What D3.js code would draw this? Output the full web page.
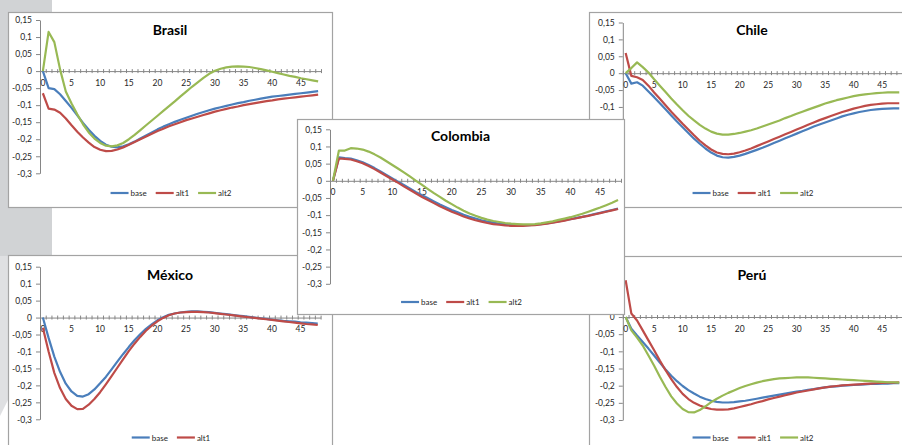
<!DOCTYPE html>
<html lang="es">
<head>
<meta charset="utf-8">
<title>Respuestas al impulso</title>
<script src="https://cdn.jsdelivr.net/npm/d3@7"></script>
<style>
  html, body { margin: 0; padding: 0; background: #fff; }
  svg { display: block; font-family: Lato, "Liberation Sans", sans-serif; }
</style>
</head>
<body>
<svg id="chart" width="902" height="445"></svg>
<script>

// periods after the shock (category axis)
var periods = [0,1,2,3,4,5,6,7,8,9,10,11,12,13,14,15,16,17,18,19,20,21,22,23,24,
               25,26,27,28,29,30,31,32,33,34,35,36,37,38,39,40,41,42,43,44,45,46,47,48];
var xTickLabels = ["0","5","10","15","20","25","30","35","40","45"];
var yTicks = [0.15, 0.1, 0.05, 0, -0.05, -0.1, -0.15, -0.2, -0.25, -0.3];
var yTickLabels = ["0,15","0,1","0,05","0","-0,05","-0,1","-0,15","-0,2","-0,25","-0,3"];
var seriesNames = ["base", "alt1", "alt2"];

var brasilBase = [0, -0.05, -0.053, -0.068, -0.088, -0.108, -0.13, -0.152, -0.172, -0.19,
  -0.205, -0.216, -0.222, -0.224, -0.221, -0.215, -0.207, -0.198, -0.189, -0.18,
  -0.171, -0.163, -0.156, -0.149, -0.143, -0.137, -0.131, -0.125, -0.12, -0.115,
  -0.11, -0.106, -0.102, -0.098, -0.094, -0.091, -0.087, -0.084, -0.081, -0.078,
  -0.075, -0.073, -0.071, -0.069, -0.067, -0.065, -0.063, -0.061, -0.059];
var brasilAlt1 = [-0.065, -0.11, -0.113, -0.122, -0.139, -0.159, -0.178, -0.195, -0.21, -0.223,
  -0.231, -0.235, -0.234, -0.23, -0.224, -0.216, -0.208, -0.2, -0.192, -0.184,
  -0.176, -0.169, -0.162, -0.156, -0.15, -0.144, -0.139, -0.134, -0.129, -0.124,
  -0.119, -0.115, -0.111, -0.107, -0.104, -0.1, -0.097, -0.094, -0.091, -0.088,
  -0.086, -0.083, -0.081, -0.079, -0.077, -0.075, -0.073, -0.071, -0.069];
var brasilAlt2 = [0, 0.115, 0.085, 0.005, -0.06, -0.095, -0.127, -0.156, -0.18, -0.198,
  -0.211, -0.219, -0.221, -0.218, -0.211, -0.2, -0.187, -0.173, -0.159, -0.145,
  -0.131, -0.117, -0.103, -0.089, -0.074, -0.06, -0.046, -0.033, -0.02, -0.008,
  0.001, 0.007, 0.011, 0.013, 0.014, 0.013, 0.012, 0.009, 0.006, 0.002,
  -0.002, -0.006, -0.01, -0.014, -0.017, -0.021, -0.024, -0.027, -0.03];

var chileBase = [0, -0.031, -0.027, -0.037, -0.054, -0.071, -0.089, -0.107, -0.125, -0.143,
  -0.16, -0.177, -0.194, -0.209, -0.223, -0.235, -0.244, -0.249, -0.25, -0.248,
  -0.244, -0.239, -0.233, -0.227, -0.221, -0.214, -0.207, -0.2, -0.193, -0.186,
  -0.179, -0.172, -0.165, -0.158, -0.152, -0.146, -0.14, -0.134, -0.128, -0.123,
  -0.119, -0.115, -0.112, -0.109, -0.107, -0.106, -0.105, -0.104, -0.104];
var chileAlt1 = [0.06, -0.008, -0.012, -0.02, -0.037, -0.057, -0.076, -0.095, -0.114, -0.132,
  -0.15, -0.167, -0.184, -0.2, -0.214, -0.226, -0.235, -0.239, -0.24, -0.238,
  -0.234, -0.229, -0.223, -0.216, -0.209, -0.202, -0.195, -0.188, -0.181, -0.174,
  -0.167, -0.16, -0.153, -0.146, -0.139, -0.133, -0.127, -0.121, -0.115, -0.11,
  -0.105, -0.101, -0.097, -0.094, -0.092, -0.09, -0.089, -0.089, -0.089];
var chileAlt2 = [0, 0.015, 0.032, 0.018, 0.002, -0.018, -0.037, -0.056, -0.075, -0.093,
  -0.11, -0.126, -0.14, -0.153, -0.164, -0.173, -0.179, -0.182, -0.182, -0.18,
  -0.177, -0.173, -0.169, -0.164, -0.158, -0.152, -0.146, -0.14, -0.133, -0.127,
  -0.12, -0.114, -0.108, -0.102, -0.096, -0.09, -0.085, -0.08, -0.076, -0.072,
  -0.068, -0.065, -0.063, -0.061, -0.059, -0.058, -0.057, -0.057, -0.057];

var colombiaBase = [0, 0.068, 0.066, 0.065, 0.06, 0.054, 0.046, 0.037, 0.027, 0.017,
  0.007, -0.003, -0.013, -0.023, -0.033, -0.042, -0.051, -0.06, -0.069, -0.077,
  -0.085, -0.092, -0.099, -0.105, -0.11, -0.115, -0.119, -0.122, -0.125, -0.127,
  -0.128, -0.129, -0.129, -0.129, -0.128, -0.126, -0.124, -0.121, -0.118, -0.115,
  -0.112, -0.108, -0.105, -0.101, -0.097, -0.093, -0.089, -0.085, -0.081];
var colombiaAlt1 = [0, 0.065, 0.064, 0.062, 0.057, 0.051, 0.043, 0.034, 0.024, 0.014,
  0.004, -0.006, -0.017, -0.027, -0.037, -0.047, -0.056, -0.065, -0.074, -0.082,
  -0.09, -0.097, -0.104, -0.11, -0.115, -0.119, -0.123, -0.126, -0.128, -0.13,
  -0.131, -0.131, -0.131, -0.13, -0.129, -0.127, -0.125, -0.122, -0.119, -0.116,
  -0.112, -0.109, -0.105, -0.102, -0.098, -0.094, -0.09, -0.086, -0.082];
var colombiaAlt2 = [0, 0.088, 0.088, 0.095, 0.094, 0.091, 0.085, 0.077, 0.068, 0.057,
  0.046, 0.035, 0.024, 0.012, 0, -0.012, -0.024, -0.036, -0.047, -0.058,
  -0.068, -0.078, -0.087, -0.095, -0.102, -0.108, -0.113, -0.117, -0.12, -0.123,
  -0.125, -0.126, -0.127, -0.127, -0.126, -0.124, -0.121, -0.118, -0.114, -0.11,
  -0.106, -0.101, -0.096, -0.09, -0.084, -0.078, -0.071, -0.064, -0.056];

var mexicoBase = [0, -0.06, -0.115, -0.16, -0.195, -0.218, -0.231, -0.233, -0.226, -0.212,
  -0.194, -0.175, -0.153, -0.13, -0.108, -0.087, -0.067, -0.049, -0.033, -0.02,
  -0.008, 0.001, 0.008, 0.012, 0.015, 0.017, 0.018, 0.018, 0.017, 0.016,
  0.014, 0.012, 0.01, 0.008, 0.006, 0.004, 0.002, 0, -0.002, -0.004,
  -0.006, -0.008, -0.01, -0.011, -0.012, -0.014, -0.015, -0.016, -0.018];
var mexicoAlt1 = [-0.03, -0.1, -0.163, -0.208, -0.24, -0.26, -0.27, -0.269, -0.257, -0.24,
  -0.22, -0.197, -0.173, -0.148, -0.123, -0.099, -0.077, -0.057, -0.039, -0.024,
  -0.011, -0.001, 0.007, 0.012, 0.015, 0.016, 0.017, 0.017, 0.016, 0.015,
  0.013, 0.011, 0.009, 0.007, 0.005, 0.003, 0.001, -0.001, -0.003, -0.005,
  -0.007, -0.009, -0.011, -0.013, -0.015, -0.017, -0.019, -0.02, -0.022];

var peruBase = [0, -0.034, -0.054, -0.073, -0.092, -0.112, -0.133, -0.153, -0.171, -0.187,
  -0.201, -0.213, -0.223, -0.232, -0.239, -0.244, -0.247, -0.249, -0.249, -0.248,
  -0.246, -0.244, -0.241, -0.238, -0.235, -0.232, -0.229, -0.226, -0.223, -0.22,
  -0.217, -0.215, -0.212, -0.21, -0.207, -0.205, -0.203, -0.202, -0.2, -0.199,
  -0.198, -0.197, -0.196, -0.195, -0.195, -0.194, -0.194, -0.193, -0.193];
var peruAlt1 = [0.107, 0.01, -0.01, -0.039, -0.068, -0.097, -0.127, -0.155, -0.181, -0.204,
  -0.224, -0.239, -0.25, -0.258, -0.264, -0.268, -0.27, -0.27, -0.269, -0.266,
  -0.262, -0.258, -0.254, -0.249, -0.245, -0.24, -0.236, -0.232, -0.228, -0.224,
  -0.22, -0.217, -0.214, -0.211, -0.208, -0.205, -0.203, -0.201, -0.199, -0.198,
  -0.197, -0.196, -0.195, -0.194, -0.193, -0.192, -0.191, -0.191, -0.19];
var peruAlt2 = [0, -0.039, -0.06, -0.083, -0.112, -0.142, -0.174, -0.204, -0.231, -0.252,
  -0.268, -0.277, -0.278, -0.271, -0.26, -0.248, -0.238, -0.229, -0.221, -0.214,
  -0.207, -0.201, -0.196, -0.191, -0.187, -0.184, -0.181, -0.179, -0.178, -0.177,
  -0.176, -0.176, -0.176, -0.177, -0.178, -0.179, -0.18, -0.181, -0.182, -0.183,
  -0.184, -0.185, -0.186, -0.187, -0.188, -0.189, -0.19, -0.19, -0.191];

// line colours (excel 2007 palette)
var colors = { base: "#4a7ebb", alt1: "#be4b48", alt2: "#98b954" };

// panel layout: box = chart frame, left/width = plot x range, top/bottom = y of 0,15 and -0,3
// colombia is last so it sits on top of the others
var panels = [
  { title: "Brasil", series: [brasilBase, brasilAlt1, brasilAlt2],
    box: [8, 12, 324, 195], left: 40, width: 281, top: 20, bottom: 173.3, titleY: 35, legendY: 193 },
  { title: "Chile", series: [chileBase, chileAlt1, chileAlt2],
    box: [589, 12, 326, 195], left: 622.8, width: 279.3, top: 22.5, bottom: 174.5, titleY: 35, legendY: 193 },
  { title: "México", series: [mexicoBase, mexicoAlt1],
    box: [8, 255, 324, 200], left: 40, width: 280.6, top: 266.7, bottom: 419.3, titleY: 280, legendY: 437.5 },
  { title: "Perú", series: [peruBase, peruAlt1, peruAlt2],
    box: [589, 256, 326, 200], left: 622.8, width: 279.3, top: 265.5, bottom: 420, titleY: 280, legendY: 437.5 },
  { title: "Colombia", series: [colombiaBase, colombiaAlt1, colombiaAlt2],
    box: [297, 119, 327, 195], left: 330, width: 291, top: 129.3, bottom: 283.8, titleY: 141, legendY: 302 }
];

var svg = d3.select("#chart");

// slide background: grey band on the left edge
svg.append("rect").attr("x", 0).attr("y", 0).attr("width", 52).attr("height", 256).attr("fill", "#d1d3d5");
svg.append("path").attr("d", "M0,256 L8,256 L8,400 L0,416 Z").attr("fill", "#dfe0e2");

function drawPanel(p) {
  var g = svg.append("g");

  g.append("rect")
    .attr("x", p.box[0] + 0.5).attr("y", p.box[1] + 0.5)
    .attr("width", p.box[2]).attr("height", p.box[3])
    .attr("fill", "#fff").attr("stroke", "#a3a3a3").attr("stroke-width", 1.2);

  var x = d3.scaleBand().domain(periods).range([p.left, p.left + p.width]);
  var y = d3.scaleLinear().domain([-0.3, 0.15]).range([p.bottom, p.top]);
  var half = x.bandwidth() / 2;

  // y axis
  var ya = g.append("g")
    .attr("transform", "translate(" + p.left + ",0)")
    .call(d3.axisLeft(y).tickValues(yTicks)
      .tickFormat(function(d, i) { return yTickLabels[i]; })
      .tickSize(4).tickSizeOuter(0).tickPadding(4));

  // x axis crossing at 0, tick marks on every category boundary
  var xb = d3.scaleLinear().domain([0, periods.length]).range([p.left, p.left + p.width]);
  var xa = g.append("g")
    .attr("transform", "translate(0," + y(0) + ")")
    .call(d3.axisBottom(xb).tickValues(d3.range(periods.length + 1))
      .tickSize(2).tickSizeOuter(0).tickFormat(""));
  xa.selectAll(".tick line").attr("y1", -2);

  [ya, xa].forEach(function(a) {
    a.selectAll("path, line").attr("stroke", "#868686");
    a.selectAll("text").attr("font-size", 8.5).attr("fill", "#262626")
      .attr("font-family", "Lato, 'Liberation Sans', sans-serif");
  });

  g.selectAll(".xlab").data(xTickLabels).enter().append("text")
    .attr("x", function(d) { return x(+d) + half; })
    .attr("y", y(0) + 14.5)
    .attr("text-anchor", "middle")
    .attr("font-size", 8.5).attr("fill", "#262626")
    .text(function(d) { return d; });

  // lines
  var line = d3.line()
    .x(function(d, i) { return x(periods[i]) + half; })
    .y(function(d) { return y(d); });

  p.series.forEach(function(s, k) {
    g.append("path").datum(s)
      .attr("d", line)
      .attr("fill", "none")
      .attr("stroke", colors[seriesNames[k]])
      .attr("stroke-width", 2.2)
      .attr("stroke-linejoin", "round");
  });

  var cx = p.box[0] + p.box[2] / 2;

  g.append("text")
    .attr("x", cx).attr("y", p.titleY)
    .attr("text-anchor", "middle")
    .attr("font-size", 14).attr("font-weight", "bold").attr("fill", "#000")
    .text(p.title);

  // legend, centred under the plot
  var leg = g.append("g");
  var pos = 0;
  p.series.forEach(function(s, k) {
    var item = leg.append("g").attr("transform", "translate(" + pos + ",0)");
    item.append("line").attr("x1", 0).attr("x2", 18).attr("y1", 0).attr("y2", 0)
      .attr("stroke", colors[seriesNames[k]]).attr("stroke-width", 2.2);
    var t = item.append("text").attr("x", 20).attr("y", 3)
      .attr("font-size", 8).attr("fill", "#262626")
      .text(seriesNames[k]);
    pos += 20 + t.node().getComputedTextLength() + 9;
  });
  pos -= 9;
  leg.attr("transform", "translate(" + (cx + 1 - pos / 2) + "," + p.legendY + ")");
}

panels.forEach(drawPanel);

</script>
</body>
</html>
